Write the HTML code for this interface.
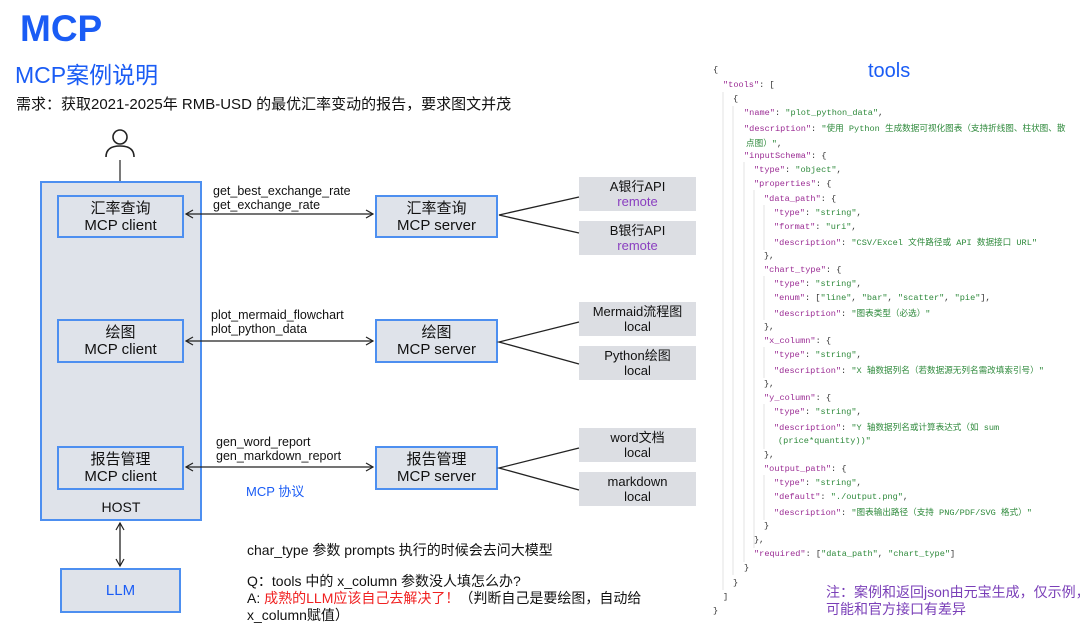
<!DOCTYPE html>
<html><head><meta charset="utf-8"><style>
*{margin:0;padding:0;box-sizing:border-box}
body{width:1080px;height:634px;background:#fff;position:relative;overflow:hidden;font-family:"Liberation Sans","Noto Sans CJK SC",sans-serif;color:#111}
.a{position:absolute;white-space:nowrap}
.bx{position:absolute;background:#dfe3ea;border:2px solid #4d8ff0;text-align:center;font-size:15px;line-height:17px;display:flex;flex-direction:column;justify-content:center}
.gr{position:absolute;background:#dcdee3;text-align:center;font-size:13px;line-height:15px;display:flex;flex-direction:column;justify-content:center}
.lbl{position:absolute;font-size:12.5px;line-height:14px;white-space:nowrap}
.j{position:absolute;font-family:"Liberation Mono","Noto Sans CJK SC",monospace;font-size:8.6px;white-space:nowrap;color:#333}
.k{color:#9b2c94}.s{color:#2f8a3c}
.rm{color:#8a3fc0}
</style></head><body>
<div class="a" style="left:20px;top:8px;font-size:37px;font-weight:bold;color:#1a5cf5">MCP</div>
<div class="a" style="left:15px;top:56px;font-size:23px;color:#1a5cf5">MCP案例说明</div>
<div class="a" style="left:16px;top:93px;font-size:15px">需求：获取2021-2025年 RMB-USD 的最优汇率变动的报告，要求图文并茂</div>

<div class="bx" style="left:40px;top:181px;width:162px;height:340px;display:block"></div>
<div class="a" style="left:40px;top:499px;width:162px;text-align:center;font-size:14px">HOST</div>
<div class="bx" style="left:57px;top:195px;width:127px;height:43px">汇率查询<br>MCP client</div>
<div class="bx" style="left:57px;top:319px;width:127px;height:44px">绘图<br>MCP client</div>
<div class="bx" style="left:57px;top:446px;width:127px;height:44px">报告管理<br>MCP client</div>
<div class="bx" style="left:375px;top:195px;width:123px;height:43px">汇率查询<br>MCP server</div>
<div class="bx" style="left:375px;top:319px;width:123px;height:44px">绘图<br>MCP server</div>
<div class="bx" style="left:375px;top:446px;width:123px;height:44px">报告管理<br>MCP server</div>
<div class="bx" style="left:60px;top:568px;width:121px;height:45px;color:#1a5cf5">LLM</div>

<svg class="a" style="left:0;top:0;z-index:5" width="1080" height="634">
<defs><marker id="ar" markerWidth="10" markerHeight="10" refX="8" refY="5" orient="auto-start-reverse" markerUnits="userSpaceOnUse"><path d="M1,1 L8,5 L1,9" fill="none" stroke="#222" stroke-width="1.2"/></marker></defs>
<circle cx="120" cy="137" r="7" fill="none" stroke="#222" stroke-width="1.6"/>
<path d="M106,157 Q106,146 120,146 Q134,146 134,157" fill="none" stroke="#222" stroke-width="1.6"/>
<line x1="120" y1="160" x2="120" y2="181" stroke="#222" stroke-width="1.2"/>
<line x1="186" y1="214" x2="373" y2="214" stroke="#222" stroke-width="1.3" marker-start="url(#ar)" marker-end="url(#ar)"/>
<line x1="186" y1="341" x2="373" y2="341" stroke="#222" stroke-width="1.3" marker-start="url(#ar)" marker-end="url(#ar)"/>
<line x1="186" y1="467" x2="373" y2="467" stroke="#222" stroke-width="1.3" marker-start="url(#ar)" marker-end="url(#ar)"/>
<line x1="120" y1="523" x2="120" y2="566" stroke="#222" stroke-width="1.3" marker-start="url(#ar)" marker-end="url(#ar)"/>
<g stroke="#222" stroke-width="1.3" fill="none">
<path d="M579,197 L499,215 L579,233"/>
<path d="M579,322 L499,342 L579,364"/>
<path d="M579,448 L499,468 L579,490"/>
</g>
</svg>

<div class="gr" style="left:579px;top:177px;width:117px;height:34px">A银行API<br><span class="rm">remote</span></div>
<div class="gr" style="left:579px;top:221px;width:117px;height:34px">B银行API<br><span class="rm">remote</span></div>
<div class="gr" style="left:579px;top:302px;width:117px;height:34px">Mermaid流程图<br>local</div>
<div class="gr" style="left:579px;top:346px;width:117px;height:34px">Python绘图<br>local</div>
<div class="gr" style="left:579px;top:428px;width:117px;height:34px">word文档<br>local</div>
<div class="gr" style="left:579px;top:472px;width:117px;height:34px">markdown<br>local</div>

<div class="lbl" style="left:213px;top:184px">get_best_exchange_rate<br>get_exchange_rate</div>
<div class="lbl" style="left:211px;top:308px">plot_mermaid_flowchart<br>plot_python_data</div>
<div class="lbl" style="left:216px;top:435px">gen_word_report<br>gen_markdown_report</div>
<div class="a" style="left:246px;top:481px;font-size:13px;color:#1a5cf5">MCP 协议</div>

<div class="a" style="left:247px;top:540px;font-size:14px">char_type 参数 prompts 执行的时候会去问大模型</div>
<div class="a" style="left:247px;top:573px;font-size:14px;line-height:17px">Q：tools 中的 x_column 参数没人填怎么办?<br>A: <span style="color:#f02020">成熟的LLM应该自己去解决了！</span>（判断自己是要绘图，自动给<br>x_column赋值）</div>

<div class="a" style="left:868px;top:60px;font-size:20px;color:#1a5cf5">tools</div>
<div class="a" style="left:826px;top:584px;font-size:14px;line-height:17px;color:#7a3fb8">注：案例和返回json由元宝生成，仅示例，<br>可能和官方接口有差异</div>

<svg class="a" style="left:0;top:0" width="1080" height="634">
<g stroke="#e3e3e3" stroke-width="1">
<line x1="723" y1="92" x2="723" y2="590"/>
<line x1="733" y1="106" x2="733" y2="575"/>
<line x1="744" y1="162" x2="744" y2="562"/>
<line x1="754" y1="190" x2="754" y2="548"/>
<line x1="764" y1="205" x2="764" y2="250"/>
<line x1="764" y1="276" x2="764" y2="320"/>
<line x1="764" y1="347" x2="764" y2="378"/>
<line x1="764" y1="404" x2="764" y2="449"/>
<line x1="764" y1="475" x2="764" y2="520"/>
</g>
</svg>

<div class="j" style="left:713px;top:65px">{</div>
<div class="j" style="left:723px;top:80px"><span class="k">"tools"</span>: [</div>
<div class="j" style="left:733px;top:94px">{</div>
<div class="j" style="left:744px;top:108px"><span class="k">"name"</span>: <span class="s">"plot_python_data"</span>,</div>
<div class="j" style="left:744px;top:122px"><span class="k">"description"</span>: <span class="s">"使用 Python 生成数据可视化图表（支持折线图、柱状图、散</span></div>
<div class="j" style="left:746px;top:137px"><span class="s">点图）"</span>,</div>
<div class="j" style="left:744px;top:151px"><span class="k">"inputSchema"</span>: {</div>
<div class="j" style="left:754px;top:165px"><span class="k">"type"</span>: <span class="s">"object"</span>,</div>
<div class="j" style="left:754px;top:179px"><span class="k">"properties"</span>: {</div>
<div class="j" style="left:764px;top:194px"><span class="k">"data_path"</span>: {</div>
<div class="j" style="left:774px;top:208px"><span class="k">"type"</span>: <span class="s">"string"</span>,</div>
<div class="j" style="left:774px;top:222px"><span class="k">"format"</span>: <span class="s">"uri"</span>,</div>
<div class="j" style="left:774px;top:236px"><span class="k">"description"</span>: <span class="s">"CSV/Excel 文件路径或 API 数据接口 URL"</span></div>
<div class="j" style="left:764px;top:251px">},</div>
<div class="j" style="left:764px;top:265px"><span class="k">"chart_type"</span>: {</div>
<div class="j" style="left:774px;top:279px"><span class="k">"type"</span>: <span class="s">"string"</span>,</div>
<div class="j" style="left:774px;top:293px"><span class="k">"enum"</span>: [<span class="s">"line"</span>, <span class="s">"bar"</span>, <span class="s">"scatter"</span>, <span class="s">"pie"</span>],</div>
<div class="j" style="left:774px;top:307px"><span class="k">"description"</span>: <span class="s">"图表类型（必选）"</span></div>
<div class="j" style="left:764px;top:322px">},</div>
<div class="j" style="left:764px;top:336px"><span class="k">"x_column"</span>: {</div>
<div class="j" style="left:774px;top:350px"><span class="k">"type"</span>: <span class="s">"string"</span>,</div>
<div class="j" style="left:774px;top:364px"><span class="k">"description"</span>: <span class="s">"X 轴数据列名（若数据源无列名需改填索引号）"</span></div>
<div class="j" style="left:764px;top:379px">},</div>
<div class="j" style="left:764px;top:393px"><span class="k">"y_column"</span>: {</div>
<div class="j" style="left:774px;top:407px"><span class="k">"type"</span>: <span class="s">"string"</span>,</div>
<div class="j" style="left:774px;top:421px"><span class="k">"description"</span>: <span class="s">"Y 轴数据列名或计算表达式（如 sum</span></div>
<div class="j" style="left:778px;top:436px"><span class="s">(price*quantity))"</span></div>
<div class="j" style="left:764px;top:450px">},</div>
<div class="j" style="left:764px;top:464px"><span class="k">"output_path"</span>: {</div>
<div class="j" style="left:774px;top:478px"><span class="k">"type"</span>: <span class="s">"string"</span>,</div>
<div class="j" style="left:774px;top:492px"><span class="k">"default"</span>: <span class="s">"./output.png"</span>,</div>
<div class="j" style="left:774px;top:506px"><span class="k">"description"</span>: <span class="s">"图表输出路径（支持 PNG/PDF/SVG 格式）"</span></div>
<div class="j" style="left:764px;top:521px">}</div>
<div class="j" style="left:754px;top:535px">},</div>
<div class="j" style="left:754px;top:549px"><span class="k">"required"</span>: [<span class="s">"data_path"</span>, <span class="s">"chart_type"</span>]</div>
<div class="j" style="left:744px;top:563px">}</div>
<div class="j" style="left:733px;top:578px">}</div>
<div class="j" style="left:723px;top:592px">]</div>
<div class="j" style="left:713px;top:606px">}</div>
</body></html>
